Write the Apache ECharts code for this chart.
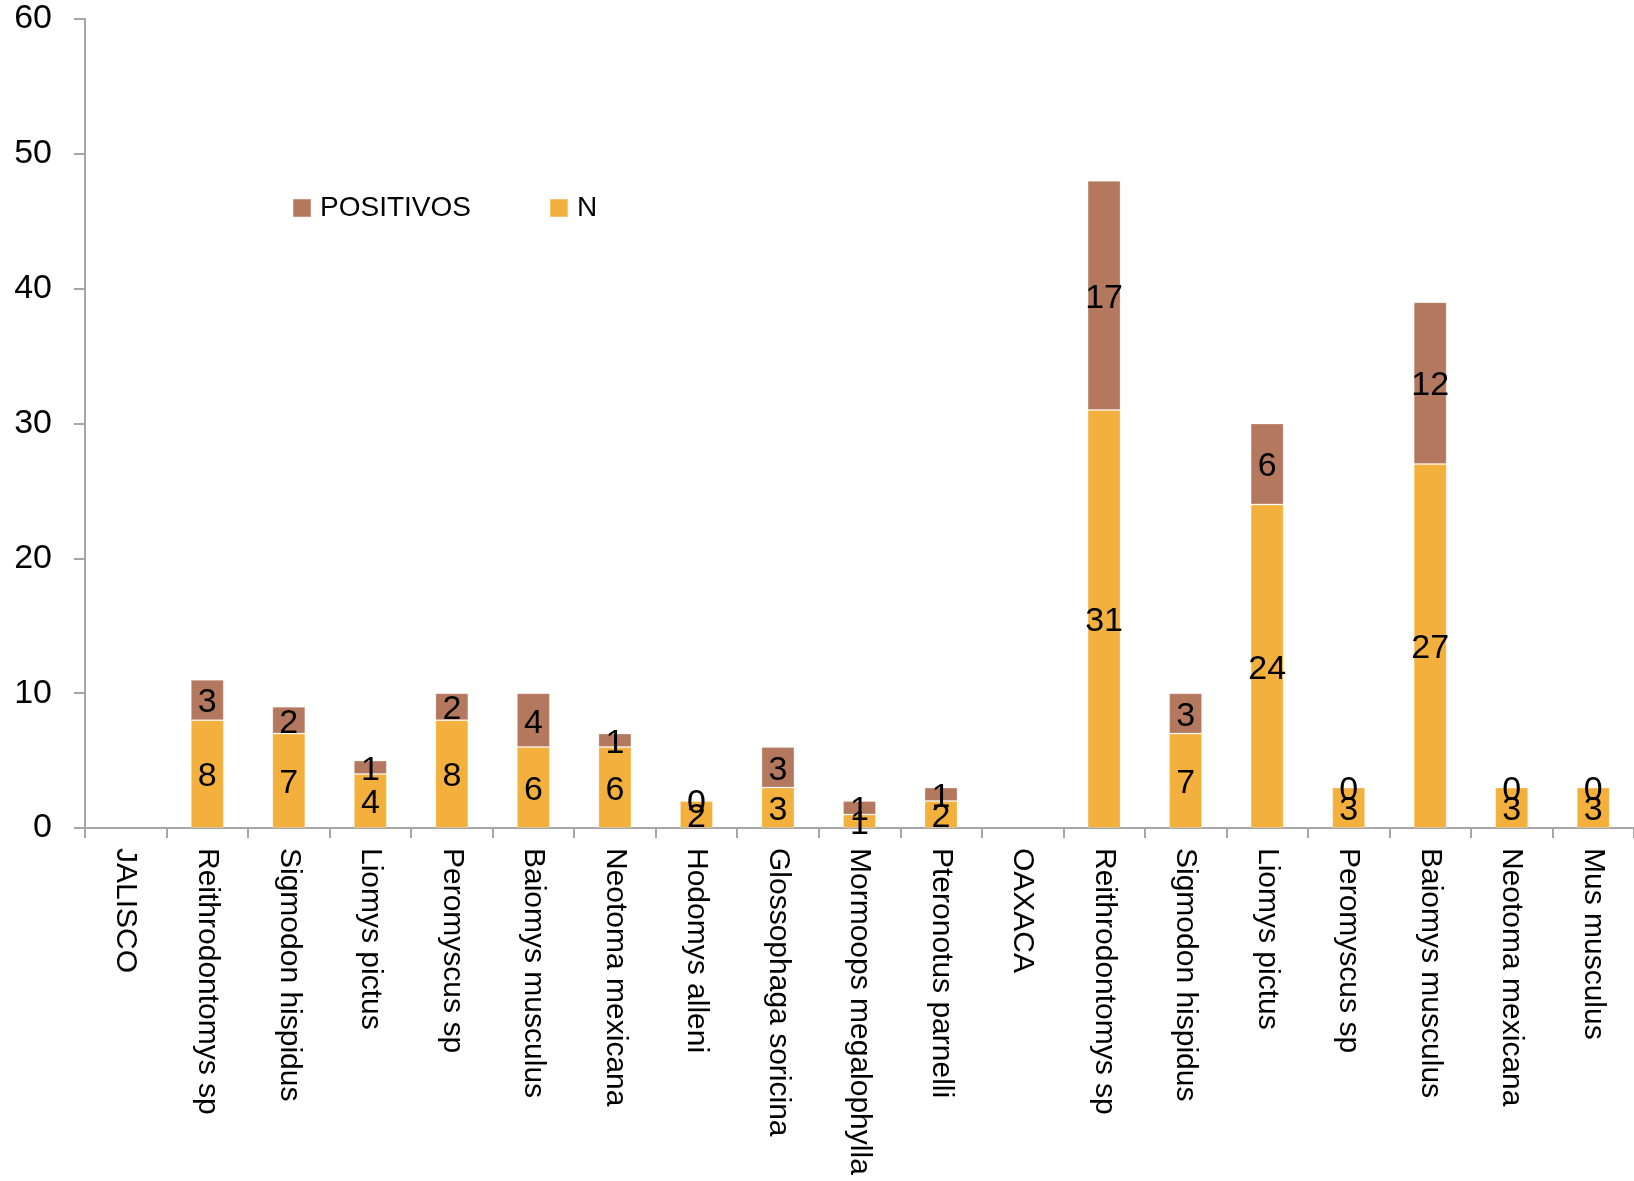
<!DOCTYPE html>
<html>
<head>
<meta charset="utf-8">
<script src="https://cdn.jsdelivr.net/npm/echarts@6/dist/echarts.min.js"></script>
<style>
html,body{margin:0;padding:0;background:#fff;}
#chart{width:1634px;height:1181px;}
</style>
</head>
<body>
<div id="chart"></div>
<script>
const categories = ["JALISCO","Reithrodontomys sp","Sigmodon hispidus","Liomys pictus","Peromyscus sp","Baiomys musculus","Neotoma mexicana","Hodomys alleni","Glossophaga soricina","Mormoops megalophylla","Pteronotus parnelli","OAXACA","Reithrodontomys sp","Sigmodon hispidus","Liomys pictus","Peromyscus sp","Baiomys musculus","Neotoma mexicana","Mus musculus"];
const nValues = [null, 8, 7, 4, 8, 6, 6, 2, 3, 1, 2, null, 31, 7, 24, 3, 27, 3, 3];
const positivosValues = [null, 3, 2, 1, 2, 4, 1, 0, 3, 1, 1, null, 17, 3, 6, 0, 12, 0, 0];
const yTicks = [0, 10, 20, 30, 40, 50, 60];

const axisGray = '#A6A6A6';
const font = '"Liberation Sans", Arial, sans-serif';

const chart = echarts.init(document.getElementById('chart'));
const labelCfg = {
  show: true,
  position: 'inside',
  offset: [0, 3],
  color: '#000',
  fontFamily: font,
  fontSize: 34,
  formatter: p => (p.value === null || p.value === undefined) ? '' : String(p.value)
};
chart.setOption({
  animation: false,
  backgroundColor: '#fff',
  grid: { left: 85, right: 0, top: 19, bottom: 353, containLabel: false },
  legend: {
    left: 292, top: 194, padding: 0,
    data: ['POSITIVOS', 'N'],
    icon: 'rect',
    itemWidth: 18, itemHeight: 18,
    itemGap: 78,
    textStyle: { fontFamily: font, fontSize: 28, color: '#000', padding: [0,0,0,4] }
  },
  xAxis: {
    type: 'category',
    data: categories,
    axisLine: { lineStyle: { color: axisGray, width: 2 } },
    axisTick: { show: true, length: 10, interval: 0, lineStyle: { color: axisGray, width: 2 } },
    axisLabel: { interval: 0, rotate: -90, margin: 20, color: '#000', fontFamily: font, fontSize: 30 },
    splitLine: { show: false }
  },
  yAxis: {
    type: 'value',
    min: yTicks[0], max: yTicks[yTicks.length - 1], interval: 10,
    axisLine: { show: true, lineStyle: { color: axisGray, width: 2 } },
    axisTick: { show: true, length: 11, lineStyle: { color: axisGray, width: 2 } },
    axisLabel: { margin: 33, color: '#000', fontFamily: font, fontSize: 34, padding: [4, 0, 0, 0] },
    splitLine: { show: false }
  },
  series: [
    {
      name: 'N', type: 'bar', stack: 'total', barWidth: 33,
      data: nValues,
      itemStyle: { color: '#F4B03C', borderColor: 'rgba(255,255,255,0.25)', borderWidth: 1 },
      label: labelCfg
    },
    {
      name: 'POSITIVOS', type: 'bar', stack: 'total', barWidth: 33,
      data: positivosValues,
      itemStyle: { color: '#B4785E', borderColor: 'rgba(255,255,255,0.25)', borderWidth: 1 },
      label: labelCfg
    }
  ]
});
</script>
</body>
</html>
